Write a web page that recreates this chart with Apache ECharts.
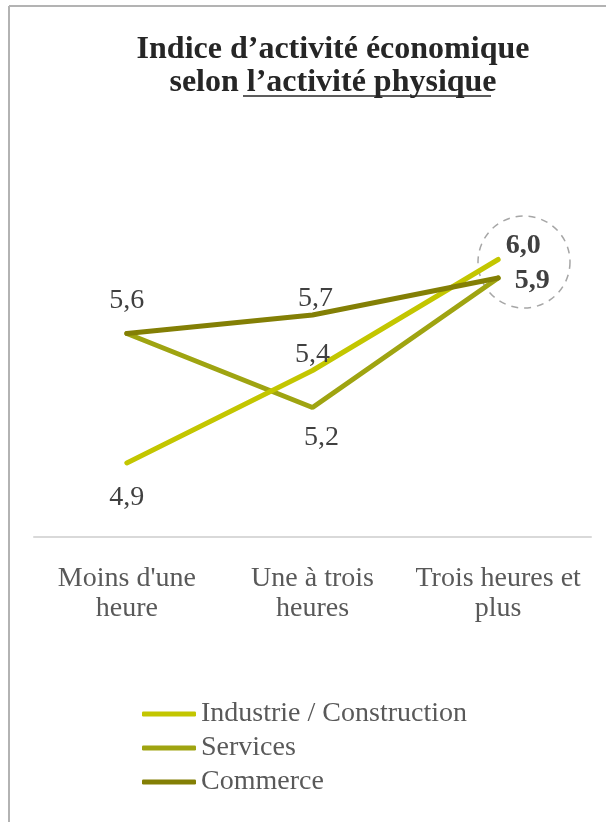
<!DOCTYPE html>
<html>
<head>
<meta charset="utf-8">
<script src="https://cdn.jsdelivr.net/npm/echarts@6/dist/echarts.min.js"></script>
<style>
  html, body { margin: 0; padding: 0; background: #fff; }
  #main { width: 606px; height: 822px; }
</style>
</head>
<body>
<div id="main"></div>
<script>
// categories (axe des x)
var categories = ['Moins d\'une\nheure', 'Une à trois\nheures', 'Trois heures et\nplus'];
// valeurs
var industrie = [4.9, 5.4, 6.0];
var services = [5.6, 5.2, 5.9];
var commerce = [5.6, 5.7, 5.9];
var seriesNames = ['Industrie / Construction', 'Services', 'Commerce'];

var font = 'Liberation Serif';
var txt = '#404040';

function fmt(p) {
    return p.value.toFixed(1).replace('.', ',');
}

// étiquette par point (null = pas d'étiquette)
function withLabels(values, labels) {
    return values.map(function (v, i) {
        var l = labels[i];
        if (!l) return { value: v, label: { show: false } };
        return { value: v, label: l };
    });
}

var myChart = echarts.init(document.getElementById('main'));

var lineBase = {
    type: 'line',
    symbol: 'circle',
    symbolSize: 1,
    showSymbol: true,
    lineStyle: { width: 5, cap: 'round' },
    emphasis: { disabled: true },
    label: { show: true, fontFamily: font, fontSize: 28, color: txt, formatter: fmt }
};

myChart.setOption({
    backgroundColor: '#fff',
    title: {
        text: 'Indice d’activité économique\nselon l’activité physique',
        left: 328,
        textAlign: 'center',
        top: 28,
        textStyle: {
            fontFamily: font,
            fontWeight: 'bold',
            fontSize: 32,
            lineHeight: 33,
            color: '#262626'
        }
    },
    grid: { left: 34, right: 15, top: 204, bottom: 285 },
    xAxis: {
        type: 'category',
        data: categories,
        boundaryGap: true,
        axisLine: { lineStyle: { color: '#d9d9d9', width: 2 } },
        axisTick: { show: false },
        axisLabel: {
            margin: 27,
            fontFamily: font,
            fontSize: 28,
            lineHeight: 30,
            color: '#595959',
            interval: 0
        }
    },
    yAxis: {
        type: 'value',
        min: 4.5,
        max: 6.3,
        show: false,
        splitLine: { show: false }
    },
    legend: {
        orient: 'vertical',
        left: 137,
        top: 695,
        icon: 'roundRect',
        itemWidth: 54,
        itemHeight: 5,
        itemGap: 6,
        itemTextGap: 5,
        data: seriesNames,
        textStyle: { fontFamily: font, fontSize: 28, color: '#595959' }
    },
    graphic: [
        { type: 'line', shape: { x1: 9, y1: 6, x2: 606, y2: 6 }, style: { stroke: '#b3b3b3', lineWidth: 2 } },
        { type: 'line', shape: { x1: 9, y1: 6, x2: 9, y2: 822 }, style: { stroke: '#b3b3b3', lineWidth: 2 } },
        { type: 'line', shape: { x1: 243, y1: 96, x2: 491, y2: 96 }, style: { stroke: '#262626', lineWidth: 1.5 } },
        { type: 'circle', shape: { cx: 524, cy: 262, r: 46 }, style: { fill: 'none', stroke: '#a6a6a6', lineWidth: 1.5, lineDash: [7, 6] } }
    ],
    series: [
        Object.assign({}, lineBase, {
            name: seriesNames[0],
            color: '#c3c600',
            z: 3,
            data: withLabels(industrie, [
                { show: true, position: 'bottom', distance: 20 },
                { show: true, position: 'top', distance: 1 },
                { show: true, position: 'right', distance: 5, offset: [2, -14], fontWeight: 'bold' }
            ])
        }),
        Object.assign({}, lineBase, {
            name: seriesNames[1],
            color: '#9fa411',
            z: 2,
            data: withLabels(services, [
                null,
                { show: true, position: 'bottom', distance: 16, offset: [9, 0] },
                { show: true, position: 'right', distance: 5, offset: [11, 3], fontWeight: 'bold' }
            ])
        }),
        Object.assign({}, lineBase, {
            name: seriesNames[2],
            color: '#837f05',
            z: 4,
            data: withLabels(commerce, [
                { show: true, position: 'top', distance: 18 },
                { show: true, position: 'top', distance: 2, offset: [3, 0] },
                null
            ])
        })
    ]
});
</script>
</body>
</html>
